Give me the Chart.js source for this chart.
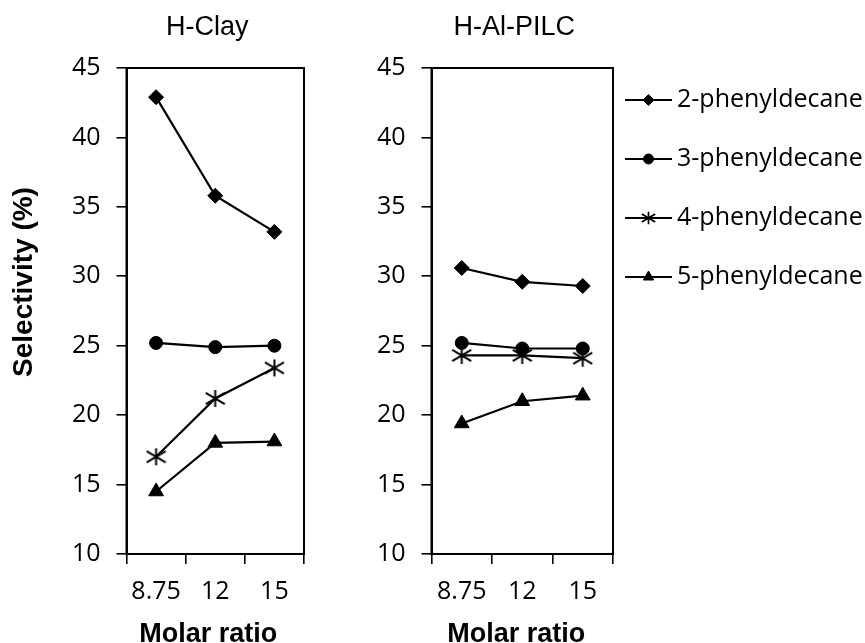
<!DOCTYPE html>
<html>
<head>
<meta charset="utf-8">
<script src="https://cdn.jsdelivr.net/npm/chart.js@4/dist/chart.umd.min.js"></script>
<style>
  html, body { margin: 0; padding: 0; background: #fff; width: 865px; height: 643px; overflow: hidden; }
  #wrap { position: relative; width: 865px; height: 643px; }
  #wrap canvas { position: absolute; top: 0; }
</style>
</head>
<body>
<div id="wrap">
  <canvas id="clay" width="330" height="643" style="left:0"></canvas>
  <canvas id="pilc" width="535" height="643" style="left:330px"></canvas>
</div>
<script>
// Molar ratio categories and selectivity (%) per phenyldecane isomer
const molarRatios = ['8.75', '12', '15'];
const seriesNames = ['2-phenyldecane', '3-phenyldecane', '4-phenyldecane', '5-phenyldecane'];

// H-Clay catalyst
const clay2 = [42.9, 35.8, 33.2];
const clay3 = [25.2, 24.9, 25.0];
const clay4 = [17.0, 21.2, 23.4];
const clay5 = [14.5, 18.0, 18.1];

// H-Al-PILC catalyst
const pilc2 = [30.6, 29.6, 29.3];
const pilc3 = [25.2, 24.8, 24.8];
const pilc4 = [24.3, 24.3, 24.1];
const pilc5 = [19.4, 21.0, 21.4];

// y axis range
const yMin = 10, yMax = 45, yStep = 5;

// six-armed asterisk marker (vertical stroke plus two diagonals)
function asterisk(w, h, lw) {
  const c = document.createElement('canvas');
  c.width = w; c.height = h;
  const g = c.getContext('2d');
  g.strokeStyle = '#000';
  g.lineWidth = lw;
  g.lineCap = 'butt';
  const cx = w / 2;
  const m = lw / 2;
  g.beginPath();
  g.moveTo(cx, m); g.lineTo(cx, h - m);
  g.moveTo(m, m + h * 0.15); g.lineTo(w - m, h - m - h * 0.15);
  g.moveTo(m, h - m - h * 0.15); g.lineTo(w - m, m + h * 0.15);
  g.stroke();
  return c;
}
const starMark = asterisk(21, 19, 2);
const starLegend = asterisk(15, 14, 1.7);

const markers = [
  { pointStyle: 'rectRot', radius: 7.5, legendStyle: 'rectRot', legendRadius: 5.5 },
  { pointStyle: 'circle', radius: 6.5, legendStyle: 'circle', legendRadius: 5 },
  { pointStyle: starMark, radius: 9, legendStyle: starLegend, legendRadius: 6 },
  { pointStyle: 'triangle', radius: 8.5, legendStyle: 'triangle', legendRadius: 6 }
];

function makeDatasets(values) {
  return values.map((v, i) => ({
    label: seriesNames[i],
    data: v,
    borderColor: '#000',
    backgroundColor: '#000',
    borderWidth: 2.2,
    pointStyle: markers[i].pointStyle,
    pointRadius: markers[i].radius,
    pointBorderWidth: 1,
    pointBorderColor: '#000',
    pointBackgroundColor: '#000',
    tension: 0,
    legendStyle: markers[i].legendStyle,
    legendRadius: markers[i].legendRadius
  }));
}

// frame around the plotting area
const frame = {
  id: 'frame',
  afterDraw(chart) {
    const { ctx, chartArea: a } = chart;
    ctx.save();
    ctx.strokeStyle = '#000';
    ctx.lineWidth = 2;
    ctx.strokeRect(a.left, a.top, a.right - a.left, a.bottom - a.top);
    ctx.restore();
  }
};

// panel title and axis captions
const panelText = {
  id: 'panelText',
  afterDraw(chart, args, o) {
    const { ctx, chartArea: a } = chart;
    const cx = (a.left + a.right) / 2;
    ctx.save();
    ctx.fillStyle = '#000';
    ctx.textAlign = 'center';
    ctx.textBaseline = 'alphabetic';
    ctx.font = '27px "Liberation Sans", Arial, sans-serif';
    ctx.fillText(o.title, cx + o.titleDx, o.titleY);
    ctx.font = 'bold 27px "Liberation Sans", Arial, sans-serif';
    ctx.fillText(o.xLabel, cx + o.xLabelDx, o.xLabelY);
    if (o.yLabel) {
      ctx.font = 'bold 28px "Liberation Sans", Arial, sans-serif';
      ctx.translate(o.yLabelX, (a.top + a.bottom) / 2 + o.yLabelDy);
      ctx.rotate(-Math.PI / 2);
      ctx.fillText(o.yLabel, 0, 0);
    }
    ctx.restore();
  }
};

// line-and-marker legend to the right of the plot
const sideLegend = {
  id: 'sideLegend',
  afterDraw(chart, args, o) {
    if (!o.show) return;
    const { ctx, chartArea: a } = chart;
    const x0 = a.right + o.lineStart, x1 = a.right + o.lineEnd;
    const mx = (x0 + x1) / 2;
    ctx.save();
    chart.data.datasets.forEach((ds, i) => {
      const y = a.top + o.firstRow + i * o.rowGap;
      ctx.strokeStyle = '#000';
      ctx.fillStyle = '#000';
      ctx.lineWidth = 2.2;
      ctx.beginPath();
      ctx.moveTo(x0, y); ctx.lineTo(x1, y);
      ctx.stroke();
      ctx.lineWidth = 1;
      Chart.helpers.drawPoint(ctx, { pointStyle: ds.legendStyle, radius: ds.legendRadius, borderWidth: 1, rotation: 0 }, mx, y);
      ctx.font = '25px "Open Sans", sans-serif';
      ctx.textAlign = 'left';
      ctx.textBaseline = 'middle';
      ctx.fillText(ds.label, a.right + o.textStart, y);
    });
    ctx.restore();
  }
};

function makeChart(id, values, opts) {
  const tickFont = { family: '"Open Sans", sans-serif', size: 25 };
  return new Chart(document.getElementById(id), {
    type: 'line',
    data: { labels: molarRatios, datasets: makeDatasets(values) },
    plugins: [frame, panelText, sideLegend],
    options: {
      responsive: false,
      animation: false,
      devicePixelRatio: 1,
      layout: { padding: { top: 68, right: opts.rightPad, bottom: 0, left: 0 } },
      plugins: {
        legend: { display: false },
        tooltip: { enabled: false },
        title: { display: false },
        panelText: opts.text,
        sideLegend: opts.legend
      },
      scales: {
        x: {
          type: 'category',
          offset: true,
          grid: { offset: true, drawOnChartArea: false, drawTicks: true, tickLength: 10, color: '#000', lineWidth: 1.6 },
          border: { display: true, color: '#000', width: 2 },
          ticks: { color: '#000', font: tickFont, padding: 13, maxRotation: 0 },
          afterFit(s) { s.height = 89; }
        },
        y: {
          min: yMin, max: yMax,
          grid: { drawOnChartArea: false, drawTicks: true, tickLength: 10, color: '#000', lineWidth: 1.6 },
          border: { display: true, color: '#000', width: 2 },
          ticks: { stepSize: yStep, color: '#000', font: tickFont, padding: 16 },
          afterFit(s) { s.width = opts.yWidth; }
        }
      }
    }
  });
}

makeChart('clay', [clay2, clay3, clay4, clay5], {
  rightPad: 26,
  yWidth: 126.5,
  text: { title: 'H-Clay', titleDx: -8, titleY: 35, xLabel: 'Molar ratio', xLabelDx: -7, xLabelY: 642,
          yLabel: 'Selectivity (%)', yLabelX: 31.5, yLabelDy: -29 },
  legend: { show: false }
});

makeChart('pilc', [pilc2, pilc3, pilc4, pilc5], {
  rightPad: 252,
  yWidth: 101.5,
  text: { title: 'H-Al-PILC', titleDx: -8, titleY: 35, xLabel: 'Molar ratio', xLabelDx: -6, xLabelY: 642 },
  legend: { show: true, lineStart: 12, lineEnd: 59, textStart: 64, firstRow: 32, rowGap: 59 }
});
</script>
</body>
</html>
